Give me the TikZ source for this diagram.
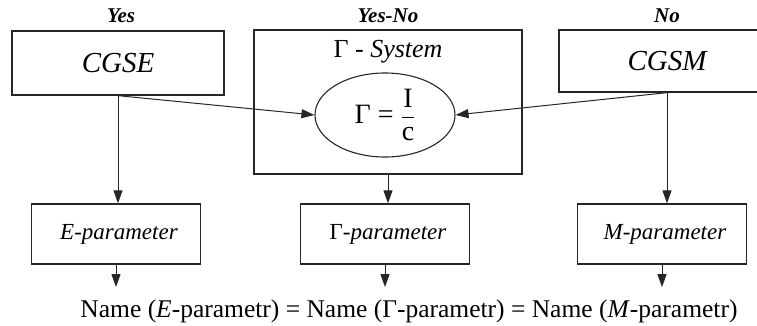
\documentclass[tikz,border=0pt]{standalone}
\usepackage{fontspec}
\setmainfont{Liberation Serif}
\usepackage{amsmath}
\usetikzlibrary{positioning,arrows.meta,shapes.geometric}

\begin{document}
\begin{tikzpicture}[x=1pt,y=-1pt,
  box/.style={draw=black!85,line width=1.3pt,inner sep=0pt},
  sysbox/.style={box,minimum width=212pt,minimum height=64pt,font=\fontsize{29}{29}\selectfont\itshape},
  parbox/.style={box,minimum width=169pt,minimum height=60pt,font=\fontsize{23}{23}\selectfont},
  head/.style={font=\fontsize{21}{21}\selectfont\bfseries\itshape,anchor=base},
  conn/.style={draw=black!85,line width=1pt,-{Triangle[length=13pt,width=9pt]}}]
  \useasboundingbox (0,0) rectangle (757,326);
  \clip (0,0) rectangle (757,326);
  % column headings
  \node[head] (hyes) at (121,23) {Yes};
  \node[head] (hyesno) at (388,23) {Yes-No};
  \node[head] (hno) at (667,23) {No};
  % unit systems
  \node[sysbox] (cgse) at (118,63) {CGSE};
  \node[sysbox,minimum width=216pt,minimum height=62pt] (cgsm) at (667,61) {CGSM};
  \node[box,minimum width=268pt,minimum height=144pt] (gsys) at (388,102) {};
  \node[font=\fontsize{26}{26}\selectfont,anchor=base] (gtitle) at (388,58) {Γ - \textit{System}};
  \node[draw=black!85,line width=1.1pt,ellipse,minimum width=140pt,minimum height=84pt,inner sep=0pt,
    font=\fontsize{28}{28}\selectfont] (gamma) at (385,115) {Γ = $\displaystyle\frac{\mbox{I}}{\mbox{c}}$};
  % parameters
  \foreach \nm/\xc/\lbl in {ebox/116/{\textit{E-parameter}},gbox/385/{Γ\textit{-parameter}},mbox/662/{\textit{M-parameter}}}
    \node[parbox] (\nm) at (\xc,234) {\hspace*{6pt}\lbl};
  \node[font=\fontsize{25.5}{25.5}\selectfont,anchor=base,inner ysep=12pt] (eq) at (409,317)
    {Name (\textit{E}-parametr) = Name (Γ-parametr) = Name (\textit{M}-parametr)};
  % connectors
  \draw[conn] (cgse.south) -- (gamma.west);
  \draw[conn] (cgsm.south) -- (gamma.east);
  \draw[conn] (cgse.south) -- (cgse.south |- ebox.north);
  \draw[conn] (gsys.south) -- (gsys.south |- gbox.north);
  \draw[conn] (cgsm.south) -- (cgsm.south |- mbox.north);
  \foreach \nm in {ebox,gbox,mbox}
    \draw[conn] (\nm.south) -- (\nm.south |- eq.north);
\end{tikzpicture}
\end{document}
